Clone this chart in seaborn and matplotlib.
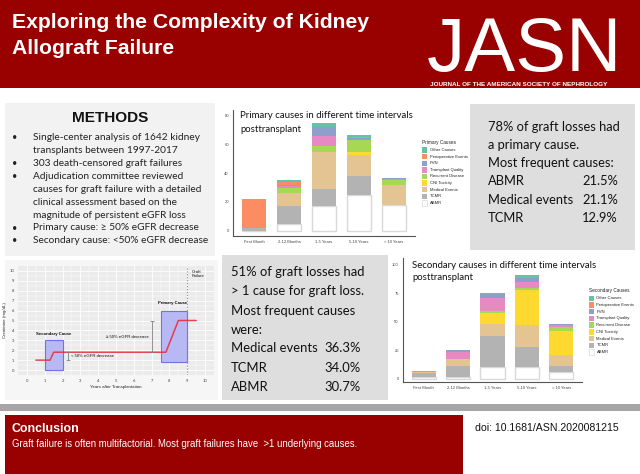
import numpy as np
import matplotlib
matplotlib.use("Agg")
import matplotlib.pyplot as plt
import seaborn as sns
from matplotlib.patches import Rectangle

sns.set_theme(style="white")
plt.rcParams['font.family'] = ['Lato', 'DejaVu Sans']

# ---------------- data ----------------
intervals = ["First Month", "2-12 Months", "1-5 Years", "5-10 Years", "> 10 Years"]
causes = ["ABMR", "TCMR", "Medical Events", "CNI Toxicity", "Recurrent Disease",
          "Transplant Quality", "PVN", "Perioperative Events", "Other Causes"]
cause_colors = ["#ffffff", "#b3b3b3", "#e5c494", "#ffd92f", "#a6d854",
                "#e78ac3", "#8da0cb", "#fc8d62", "#66c2a5"]

primary_abmr = [0, 5, 17, 25, 18]
primary_tcmr = [2, 12, 12, 13, 0]
primary_medical = [0, 9, 26, 15, 14]
primary_cni = [0, 0, 0, 2, 0]
primary_recurrent = [0, 4, 4, 8, 3]
primary_quality = [0, 1, 7, 0, 1]
primary_pvn = [0, 1, 6, 1.5, 1]
primary_periop = [20, 2, 0, 1, 0]
primary_other = [0, 1, 3, 1, 0]

secondary_abmr = [1, 1, 10, 10, 6]
secondary_tcmr = [4, 10, 27, 18, 5]
secondary_medical = [1, 6, 11, 19, 10]
secondary_cni = [0, 0, 10, 31, 21]
secondary_recurrent = [0, 0, 1, 2, 3]
secondary_quality = [0, 6, 12, 5, 2]
secondary_pvn = [0, 2, 3, 3, 1]
secondary_periop = [0.5, 0, 0, 0, 0]
secondary_other = [0.5, 0, 1, 3, 0]

primary_ticks = [0, 20, 40, 60, 80]
secondary_ticks = [0, 25, 50, 75, 100]

# schematic creatinine course
course_years = [0.5, 1.3, 1.5, 7.8, 8.5, 9.5]
course_creat = [1.0, 1.0, 1.8, 1.8, 5.0, 5.0]

methods_lines = ["Single-center analysis of 1642 kidney",
                 "transplants between 1997-2017",
                 "303 death-censored graft failures",
                 "Adjudication committee reviewed",
                 "causes for graft failure with a detailed",
                 "clinical assessment based on the",
                 "magnitude of persistent eGFR loss",
                 "Primary cause: \u2265 50% eGFR decrease",
                 "Secondary cause: <50% eGFR decrease"]
methods_bullets = [0, 2, 3, 7, 8]

primary_intro = ["78% of graft losses had", "a primary cause.", "Most frequent causes:"]
primary_top = [("ABMR", "21.5%"), ("Medical events", "21.1%"), ("TCMR", "12.9%")]
secondary_intro = ["51% of graft losses had", "> 1 cause for graft loss.", "Most frequent causes", "were:"]
secondary_top = [("Medical events", "36.3%"), ("TCMR", "34.0%"), ("ABMR", "30.7%")]

# ---------------- figure ----------------
W, H = 640, 474
fig = plt.figure(figsize=(6.4, 4.74), dpi=100, facecolor='white')


def fx(x):
    return x / W


def fy(y):
    return 1 - y / H


def box(x0, y0, x1, y1, color, z=-5, ec='none', lw=0):
    fig.add_artist(Rectangle((fx(x0), fy(y1)), (x1 - x0) / W, (y1 - y0) / H,
                             transform=fig.transFigure, facecolor=color,
                             edgecolor=ec, linewidth=lw, zorder=z))


RED = '#990000'
box(0, 0, 640, 88, RED)
box(5, 103, 215, 256, '#f2f2f2')
box(470, 104, 635, 250, '#dedede')
box(5, 260, 218, 400, '#f6f6f6')
box(222, 255, 388, 400, '#dedede')
box(0, 404, 640, 411, '#a6a6a6')
box(5, 415, 463, 474, RED)

# header
fig.text(fx(12), fy(23), "Exploring the Complexity of Kidney", color='white',
         fontsize=15.2, fontweight='bold', family='Liberation Sans', va='center')
fig.text(fx(12), fy(48), "Allograft Failure", color='white',
         fontsize=15.2, fontweight='bold', family='Liberation Sans', va='center')
fig.text(fx(427), fy(71), "JASN", color='white', fontsize=55, family='Liberation Sans',
         fontweight='normal', va='baseline', ha='left')
fig.text(fx(430), fy(84.5), "JOURNAL OF THE AMERICAN SOCIETY OF NEPHROLOGY", color='white',
         fontsize=4.6, fontweight='bold', family='Liberation Sans', va='center')

# methods
fig.text(fx(110), fy(118), "METHODS", fontsize=11.1, fontweight='bold',
         family='Liberation Sans', ha='center', va='center', color='#111111')
for i, line in enumerate(methods_lines):
    y = 137.7 + 12.9 * i
    if i in methods_bullets:
        fig.text(fx(12), fy(y), "\u2022", fontsize=6.5, va='center', color='#222222')
    fig.text(fx(33), fy(y), line, fontsize=7.3, va='center', color='#222222')

# right text box
for i, line in enumerate(primary_intro):
    fig.text(fx(488), fy(126.7 + 18.2 * i), line, fontsize=9.3, va='center', color='#111111')
for j, (name, pct) in enumerate(primary_top):
    y = 126.7 + 18.2 * (3 + j)
    fig.text(fx(488), fy(y), name, fontsize=9.3, va='center', color='#111111')
    fig.text(fx(618), fy(y), pct, fontsize=9.3, va='center', ha='right', color='#111111')

# middle text box
for i, line in enumerate(secondary_intro):
    fig.text(fx(231), fy(271.7 + 19.6 * i), line, fontsize=9.4, va='center', color='#111111')
for j, (name, pct) in enumerate(secondary_top):
    y = 271.7 + 19.6 * (4 + j) - 2
    fig.text(fx(231), fy(y), name, fontsize=9.4, va='center', color='#111111')
    fig.text(fx(361), fy(y), pct, fontsize=9.4, va='center', ha='right', color='#111111')

# conclusion
fig.text(fx(12), fy(429), "Conclusion", color='white', fontsize=8.9, fontweight='bold',
         family='Liberation Sans', va='center')
fig.text(fx(12), fy(444), "Graft failure is often multifactorial. Most graft failures have  >1 underlying causes.",
         color='white', fontsize=6.9, family='Liberation Sans', va='center')
fig.text(fx(475), fy(428), "doi: 10.1681/ASN.2020081215", color='#111111', fontsize=7.6,
         family='Liberation Sans', va='center')


# ---------------- stacked bar charts ----------------
def draw_stacked(ax, series):
    bottom = np.zeros(len(intervals))
    for name, col, vals in zip(causes, cause_colors, series):
        vals = np.asarray(vals, dtype=float)
        is_white = name == "ABMR"
        sns.barplot(x=intervals, y=vals, order=intervals, bottom=bottom.copy(),
                    color=col, saturation=1, width=0.7, errorbar=None,
                    edgecolor='#d9d9d9' if is_white else col,
                    linewidth=1.0 if is_white else 0, ax=ax)
        bottom += vals


def style_bar_axes(ax, ylim, ticks):
    ax.set_xlim(-0.6, 4.6)
    ax.set_ylim(*ylim)
    ax.set_yticks(ticks)
    ax.set_yticklabels([str(t) for t in ticks])
    ax.set_xlabel("")
    ax.set_ylabel("")
    ax.set_facecolor('none')
    for s in ['top', 'right']:
        ax.spines[s].set_visible(False)
    for s in ['left', 'bottom']:
        ax.spines[s].set_color('#555555')
        ax.spines[s].set_linewidth(0.8)
    ax.tick_params(axis='both', labelsize=3, colors='#444444', length=1.5, width=0.4, pad=1.5)
    for lab in ax.get_xticklabels() + ax.get_yticklabels():
        lab.set_family('Liberation Sans')


def draw_legend(x0, y_title, y_first, dy, title):
    fig.text(fx(x0), fy(y_title), title, fontsize=3.4, va='center', ha='left',
             color='#222222', family='Liberation Sans')
    order = list(range(len(causes)))[::-1]
    for i, k in enumerate(order):
        yc = y_first + dy * i
        fig.add_artist(Rectangle((fx(x0), fy(yc + 2.7)), 5.4 / W, 5.4 / H,
                                 transform=fig.transFigure, facecolor=cause_colors[k],
                                 edgecolor='#d0d0d0' if causes[k] == 'ABMR' else 'none',
                                 linewidth=0.4, zorder=3))
        fig.text(fx(x0 + 7.5), fy(yc), causes[k], fontsize=3.0, va='center', ha='left',
                 color='#222222', family='Liberation Sans')


ax1 = fig.add_axes([fx(233), fy(236), (415 - 233) / W, (236 - 110) / H])
draw_stacked(ax1, [primary_abmr, primary_tcmr, primary_medical, primary_cni, primary_recurrent,
                   primary_quality, primary_pvn, primary_periop, primary_other])
style_bar_axes(ax1, (-3.7, 84), primary_ticks)
fig.text(fx(240), fy(116), "Primary causes in different time intervals", fontsize=6.9,
         va='center', color='#111111')
fig.text(fx(240), fy(129), "posttransplant", fontsize=6.9, va='center', color='#111111')
draw_legend(422, 142.7, 150, 6.6, "Primary Causes")

ax2 = fig.add_axes([fx(403), fy(382), (582 - 403) / W, (382 - 258) / H])
draw_stacked(ax2, [secondary_abmr, secondary_tcmr, secondary_medical, secondary_cni,
                   secondary_recurrent, secondary_quality, secondary_pvn, secondary_periop,
                   secondary_other])
style_bar_axes(ax2, (-3, 106), secondary_ticks)
fig.text(fx(412), fy(265.5), "Secondary causes in different time intervals", fontsize=6.9,
         va='center', color='#111111')
fig.text(fx(412), fy(278), "posttransplant", fontsize=6.9, va='center', color='#111111')
draw_legend(589, 290.7, 298.3, 6.7, "Secondary Causes")

# ---------------- schematic diagram ----------------
ax3 = fig.add_axes([fx(18), fy(375), (214 - 18) / W, (375 - 266) / H])
ax3.set_facecolor('#ebebeb')
ax3.set_xlim(-0.5, 10.5)
ax3.set_ylim(-0.5, 10.5)
ax3.set_xticks(range(11))
ax3.set_yticks(range(11))
ax3.set_xticks(np.arange(0.5, 10.5, 1), minor=True)
ax3.set_yticks(np.arange(0.5, 10.5, 1), minor=True)
ax3.grid(True, which='major', color='white', linewidth=0.6)
ax3.grid(True, which='minor', color='white', linewidth=0.3)
ax3.set_axisbelow(True)
for s in ax3.spines.values():
    s.set_visible(False)
ax3.tick_params(axis='both', which='major', labelsize=3, colors='#444444', length=1.2,
                width=0.4, pad=1.5)
ax3.tick_params(axis='both', which='minor', length=0)
ax3.set_xlabel("Years after Transplantation", fontsize=3.2, labelpad=1.5, color='#222222',
               family='Liberation Sans')
ax3.set_ylabel("Creatinine (mg/dL)", fontsize=3.2, labelpad=1.5, color='#222222',
               family='Liberation Sans')

ax3.add_patch(Rectangle((1, 0), 1, 3, facecolor='#b8b8f4', edgecolor='#7070f0',
                        linewidth=0.8, zorder=2))
ax3.add_patch(Rectangle((7.5, 0.8), 1.5, 5.2, facecolor='#b8b8f4', edgecolor='#7070f0',
                        linewidth=0.8, zorder=2))
ax3.axvline(9, color='#888888', linestyle=':', linewidth=0.8, zorder=2)
sns.lineplot(x=course_years, y=course_creat, sort=False, color='#e8303c', linewidth=1.1,
             alpha=0.9, ax=ax3, zorder=3)
ax3.errorbar([2.3], [1.4], yerr=[[0.4], [0.4]], color='#808080', capsize=1.6,
             linewidth=0.6, capthick=0.6, zorder=3)
ax3.errorbar([7.0], [3.4], yerr=[[1.6], [1.6]], color='#808080', capsize=1.6,
             linewidth=0.6, capthick=0.6, zorder=3)
txt = dict(fontsize=3.1, color='#111111', family='Liberation Sans')
ax3.text(1.5, 3.6, "Secondary Cause", ha='center', va='center', fontweight='bold', **txt)
ax3.text(8.2, 6.8, "Primary Cause", ha='center', va='center', fontweight='bold', **txt)
ax3.text(9.25, 9.7, "Graft\nFailure", ha='left', va='center', **txt)
ax3.text(2.45, 1.4, "< 50% eGFR decrease", ha='left', va='center', **txt)
ax3.text(6.85, 3.3, "\u2265 50% eGFR decrease", ha='right', va='center', **txt)

fig.savefig("out.png", dpi=100, facecolor='white')
